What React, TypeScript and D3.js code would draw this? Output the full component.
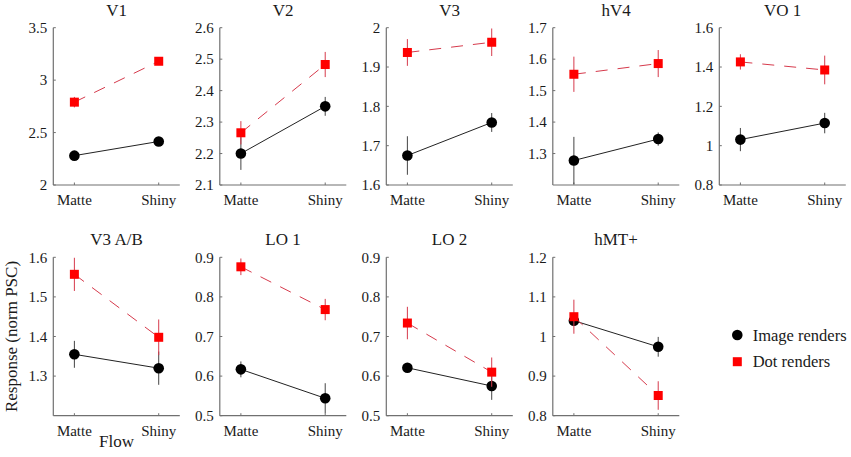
import React from "react";
import * as d3 from "d3";

const conditions = ["Matte", "Shiny"];
const regions = ["V1", "V2", "V3", "hV4", "VO 1", "V3 A/B", "LO 1", "LO 2", "hMT+"];
const yDomains: [number, number][] = [
  [2, 3.5], [2.1, 2.6], [1.6, 2.0], [1.2, 1.7], [0.8, 1.6],
  [1.2, 1.6], [0.5, 0.9], [0.5, 0.9], [0.8, 1.2],
];
const yTickValues: number[][] = [
  [2, 2.5, 3, 3.5],
  [2.1, 2.2, 2.3, 2.4, 2.5, 2.6],
  [1.6, 1.7, 1.8, 1.9, 2.0],
  [1.3, 1.4, 1.5, 1.6, 1.7],
  [0.8, 1.0, 1.2, 1.4, 1.6],
  [1.3, 1.4, 1.5, 1.6],
  [0.5, 0.6, 0.7, 0.8, 0.9],
  [0.5, 0.6, 0.7, 0.8, 0.9],
  [0.8, 0.9, 1.0, 1.1, 1.2],
];
// Image renders: [Matte, Shiny]
const imageMean: number[][] = [
  [2.28, 2.415], [2.2, 2.35], [1.675, 1.759], [1.278, 1.346], [1.031, 1.115],
  [1.355, 1.32], [0.617, 0.544], [0.621, 0.575], [1.04, 0.974],
];
const imageErr: number[][] = [
  [0.04, 0.03], [0.052, 0.03], [0.049, 0.024], [0.075, 0.021], [0.059, 0.052],
  [0.034, 0.042], [0.02, 0.038], [0.012, 0.035], [0.01, 0.025],
];
// Dot renders: [Matte, Shiny]
const dotMean: number[][] = [
  [2.79, 3.18], [2.266, 2.483], [1.937, 1.963], [1.552, 1.586], [1.426, 1.385],
  [1.557, 1.398], [0.876, 0.768], [0.734, 0.61], [1.05, 0.851],
];
const dotErr: number[][] = [
  [0.05, 0.03], [0.037, 0.04], [0.034, 0.035], [0.056, 0.043], [0.039, 0.073],
  [0.042, 0.045], [0.021, 0.027], [0.041, 0.037], [0.043, 0.036],
];
const legendLabels = ["Image renders", "Dot renders"];
const yAxisLabel = "Response (norm PSC)";
const xAxisLabel = "Flow";

const FONT = "'Liberation Serif', 'Times New Roman', serif";
const TEXT = "#1a1a1a";
const AXIS = "#707070";
const RED = "#ff0000";
const RED_LINE = "#d63a4c";

const W = 851;
const H = 457;
const panelW = 126.5;
const lefts = [53.3, 219.8, 386.3, 552.8, 719.3];
const rows = [
  { top: 27.7, bottom: 185 },
  { top: 257.3, bottom: 415.7 },
];
const R = 5.3;
const SQ = 9;

function fmt(v: number) {
  return d3.format("~g")(+v.toFixed(2));
}

function Panel({ i }: { i: number }) {
  const row = i < 5 ? 0 : 1;
  const col = i < 5 ? i : i - 5;
  const left = lefts[col];
  const { top, bottom } = rows[row];
  const x = d3.scalePoint<string>().domain(conditions).range([left + panelW / 6, left + (panelW * 5) / 6]);
  const y = d3.scaleLinear().domain(yDomains[i]).range([bottom, top]);
  const clipId = `clip${i}`;
  const line = d3
    .line<number>()
    .x((_, k) => x(conditions[k]) as number)
    .y((d) => y(d));
  const cx = (k: number) => x(conditions[k]) as number;
  return (
    <g>
      <defs>
        <clipPath id={clipId}>
          <rect x={left} y={top} width={panelW} height={bottom - top} />
        </clipPath>
      </defs>
      <text x={left + panelW / 2} y={top - 12} textAnchor="middle" fontSize={17} fill={TEXT}>
        {regions[i]}
      </text>
      <line x1={left} x2={left} y1={top} y2={bottom} stroke={AXIS} strokeWidth={1.2} />
      <line x1={left} x2={left + panelW} y1={bottom} y2={bottom} stroke={AXIS} strokeWidth={1.2} />
      {yTickValues[i].map((t) => (
        <g key={t}>
          <line x1={left} x2={left + 2.5} y1={y(t)} y2={y(t)} stroke={AXIS} strokeWidth={1} />
          <text x={left - 6} y={y(t)} dy="0.35em" textAnchor="end" fontSize={15} fill={TEXT}>
            {fmt(t)}
          </text>
        </g>
      ))}
      {conditions.map((c) => (
        <g key={c}>
          <line x1={x(c)} x2={x(c)} y1={bottom} y2={bottom - 2.5} stroke={AXIS} strokeWidth={1} />
          <text x={x(c)} y={bottom + 20} textAnchor="middle" fontSize={15} fill={TEXT}>
            {c}
          </text>
        </g>
      ))}
      <g clipPath={`url(#${clipId})`}>
        {imageMean[i].map((m, k) => (
          <line key={k} x1={cx(k)} x2={cx(k)} y1={y(m - imageErr[i][k])} y2={y(m + imageErr[i][k])} stroke="#444" strokeWidth={1} />
        ))}
        <path d={line(imageMean[i]) || ""} fill="none" stroke="#222" strokeWidth={1} />
        {imageMean[i].map((m, k) => (
          <circle key={k} cx={cx(k)} cy={y(m)} r={R} fill="#000" />
        ))}
        {dotMean[i].map((m, k) => (
          <line key={k} x1={cx(k)} x2={cx(k)} y1={y(m - dotErr[i][k])} y2={y(m + dotErr[i][k])} stroke={RED_LINE} strokeWidth={1} />
        ))}
        <path d={line(dotMean[i]) || ""} fill="none" stroke={RED_LINE} strokeWidth={1} strokeDasharray="12,10" />
        {dotMean[i].map((m, k) => (
          <rect key={k} x={cx(k) - SQ / 2} y={y(m) - SQ / 2} width={SQ} height={SQ} fill={RED} />
        ))}
      </g>
    </g>
  );
}

export default function App() {
  return (
    <svg
      width={W}
      height={H}
      style={{ position: "absolute", left: 0, top: 0, display: "block", fontFamily: FONT, background: "#fff" }}
    >
      <rect x={0} y={0} width={W} height={H} fill="#fff" />
      {regions.map((_, i) => (
        <Panel key={i} i={i} />
      ))}
      <text
        transform={`translate(${16.5},${(rows[1].top + rows[1].bottom) / 2}) rotate(-90)`}
        textAnchor="middle"
        fontSize={17}
        fill={TEXT}
      >
        {yAxisLabel}
      </text>
      <text x={lefts[0] + panelW / 2} y={447} textAnchor="middle" fontSize={17} fill={TEXT}>
        {xAxisLabel}
      </text>
      <circle cx={737.3} cy={335} r={R} fill="#000" />
      <text x={752.7} y={335} dy="0.35em" fontSize={16.5} fill={TEXT}>
        {legendLabels[0]}
      </text>
      <rect x={737.3 - SQ / 2} y={361.7 - SQ / 2} width={SQ} height={SQ} fill={RED} />
      <text x={752.7} y={361.7} dy="0.35em" fontSize={16.5} fill={TEXT}>
        {legendLabels[1]}
      </text>
    </svg>
  );
}
